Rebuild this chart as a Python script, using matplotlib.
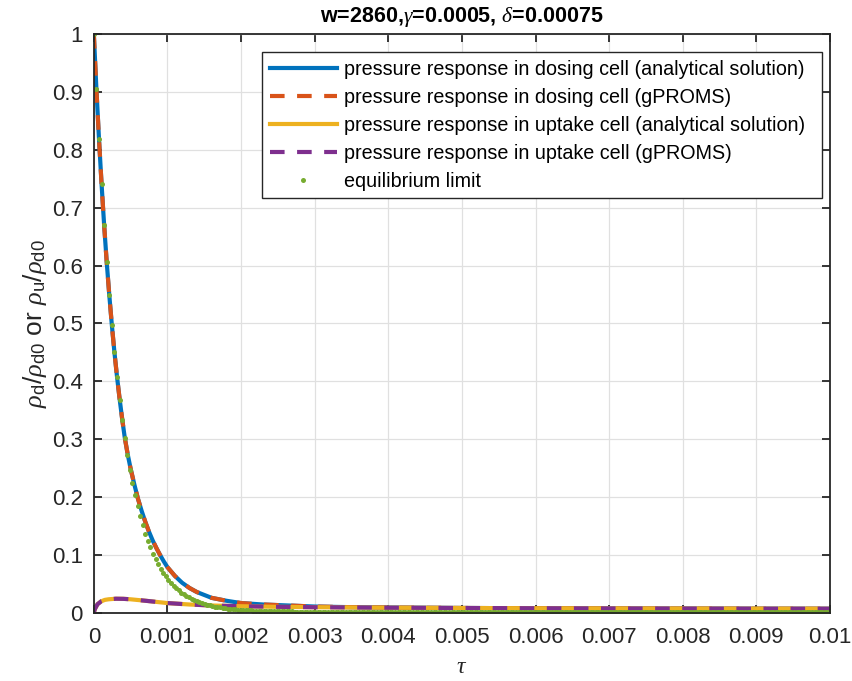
import numpy as np
import matplotlib
matplotlib.use("Agg")
import matplotlib.pyplot as plt

plt.rcParams['font.family'] = ['Liberation Sans', 'DejaVu Sans']
plt.rcParams['mathtext.fontset'] = 'custom'
plt.rcParams['mathtext.rm'] = 'Liberation Sans'
plt.rcParams['mathtext.it'] = 'Liberation Serif:italic'
plt.rcParams['mathtext.bf'] = 'Liberation Sans:bold'

# dosing cell (analytical / gPROMS overlap)
tau_d = [0, 0.000035, 0.00007, 0.000105, 0.00014, 0.000175, 0.00021, 0.000245,
         0.00028, 0.000315, 0.00035, 0.000385, 0.00042, 0.00046, 0.0005, 0.00055,
         0.0006, 0.00065, 0.0007, 0.00075, 0.0008, 0.00085, 0.0009, 0.00095, 0.001,
         0.0011, 0.0012, 0.0013, 0.0014, 0.0015, 0.0016, 0.0018, 0.002, 0.0023,
         0.0026, 0.003, 0.0035, 0.004, 0.005, 0.006, 0.007, 0.008, 0.009, 0.01]
rho_d = [1.000, 0.905, 0.819, 0.741, 0.670, 0.606, 0.549, 0.497,
         0.450, 0.408, 0.370, 0.335, 0.303, 0.274, 0.249, 0.222,
         0.197, 0.176, 0.157, 0.140, 0.125, 0.112, 0.100, 0.089, 0.079,
         0.064, 0.052, 0.043, 0.036, 0.031, 0.026, 0.021, 0.017, 0.0145,
         0.013, 0.0110, 0.0099, 0.0093, 0.0085, 0.0080, 0.0077, 0.0075, 0.0073, 0.0072]

# uptake cell
tau_u = [0, 0.00001, 0.00002, 0.00005, 0.0001, 0.00015, 0.0002, 0.0003, 0.0004,
         0.0005, 0.0007, 0.001, 0.0013, 0.0016, 0.002, 0.0025, 0.003, 0.0035,
         0.004, 0.005, 0.006, 0.007, 0.008, 0.009, 0.01]
rho_u = [0, 0.005, 0.008, 0.015, 0.020, 0.0225, 0.0235, 0.0245, 0.0243,
         0.0235, 0.021, 0.017, 0.0145, 0.0128, 0.0115, 0.0105, 0.0098, 0.0094,
         0.0090, 0.0085, 0.0080, 0.0077, 0.0075, 0.0073, 0.0072]

# equilibrium limit, one dot per sample step
eq_vals = ([1.000, 0.905, 0.819, 0.741, 0.670, 0.607, 0.549, 0.497, 0.450, 0.407,
            0.368, 0.333, 0.302, 0.273, 0.247, 0.224, 0.203, 0.184, 0.167, 0.151,
            0.137, 0.124, 0.113, 0.102, 0.093, 0.084, 0.076, 0.069, 0.063, 0.057,
            0.052, 0.047, 0.043, 0.039, 0.035, 0.032, 0.029, 0.027, 0.024, 0.022,
            0.020, 0.019, 0.017, 0.016, 0.014, 0.013, 0.012, 0.011, 0.010, 0.0095,
            0.0088, 0.0082, 0.0076, 0.0070, 0.0065, 0.0061, 0.0057, 0.0053, 0.0050, 0.0047,
            0.0044, 0.0042, 0.0040, 0.0038, 0.0036, 0.0035, 0.0033, 0.0032, 0.0031, 0.0030,
            0.0029, 0.0028, 0.0027, 0.0027, 0.0026, 0.0026, 0.0025, 0.0025, 0.0024, 0.0024]
           + [0.0023] * 60 + [0.0022] * 70 + [0.0021] * 77)
eq_tau = np.linspace(0, 0.01, len(eq_vals))

labels = ['pressure response in dosing cell (analytical solution)',
          'pressure response in dosing cell (gPROMS)',
          'pressure response in uptake cell (analytical solution)',
          'pressure response in uptake cell (gPROMS)',
          'equilibrium limit']

fig = plt.figure(figsize=(8.53, 6.81), dpi=100)
ax = fig.add_axes([0.110, 0.100, 0.863, 0.850])

ax.plot(tau_d, rho_d, color='#0072BD', lw=3, label=labels[0])
ax.plot(tau_d, rho_d, color='#D95319', lw=3, dashes=(3.5, 3), label=labels[1])
ax.plot(tau_u, rho_u, color='#EDB120', lw=3, label=labels[2])
ax.plot(tau_u, rho_u, color='#7E2F8E', lw=3, dashes=(3.5, 3), label=labels[3])
ax.plot(eq_tau, eq_vals, ls='none', marker='o', ms=3.6, mew=0, color='#77AC30', label=labels[4])

ax.set_xlim(0, 0.01)
ax.set_ylim(0, 1)
ax.set_xticks(np.arange(0, 0.0101, 0.001))
ax.set_xticklabels(['0', '0.001', '0.002', '0.003', '0.004', '0.005', '0.006',
                    '0.007', '0.008', '0.009', '0.01'])
ax.set_yticks(np.arange(0, 1.01, 0.1))
ax.set_yticklabels(['0', '0.1', '0.2', '0.3', '0.4', '0.5', '0.6', '0.7', '0.8', '0.9', '1'])

ax.grid(True, color='#e0e0e0', lw=0.9)
ax.set_axisbelow(True)
ax.tick_params(direction='in', top=True, right=True, length=6, width=1.3,
               labelsize=16, colors='#262626')
ax.tick_params(axis='x', pad=10)
ax.tick_params(axis='y', pad=8)
for s in ax.spines.values():
    s.set_linewidth(1.3)
    s.set_color('#262626')

ax.set_xlabel(r'$\tau$', fontsize=17, color='#262626', labelpad=6)
ax.set_ylabel(r'$\rho_{\rm d}/\rho_{\rm d0}$ or $\rho_{\rm u}/\rho_{\rm d0}$',
              fontsize=19, color='#262626', labelpad=2)
ax.set_title(r'w=2860,$\gamma$=0.0005, $\delta$=0.00075', fontsize=15.5,
             fontweight='bold', pad=9)

leg = ax.legend(loc='upper left', bbox_to_anchor=(0.228, 0.969, 0.761, 0.0),
                mode='expand', fontsize=14.25,
                handlelength=3.4, handletextpad=0.35, borderpad=0.4,
                labelspacing=0.45, fancybox=False, framealpha=1,
                edgecolor='#262626', borderaxespad=0)
leg.get_frame().set_linewidth(1.0)

fig.savefig('out.png', dpi=100)
